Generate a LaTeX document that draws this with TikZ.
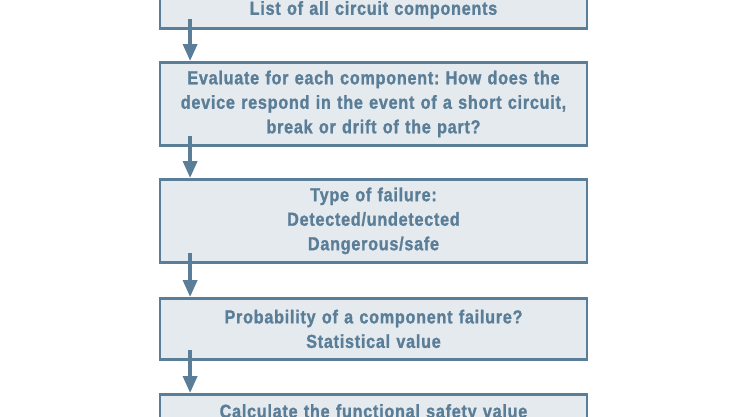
\documentclass[tikz,border=0pt]{standalone}
\usepackage{fontspec}
\usetikzlibrary{arrows.meta}
\newfontfamily\flowfont{Liberation Sans}[FakeStretch=0.86,LetterSpace=4,FakeBold=1.2]
\definecolor{steel}{HTML}{5A7E98}
\definecolor{mist}{HTML}{E5EAEE}
\tikzset{>={Triangle[width=14pt,length=17pt]}}
\tikzset{
    stepbox/.style = {draw=steel, line width=2.8pt, fill=mist, text=steel,
        minimum width=427pt, text width=410pt, align=center, anchor=north,
        inner sep=0pt, font=\flowfont\bfseries\frenchspacing\fontsize{18.8}{24.5}\selectfont},
    flow/.style = {->, draw=steel, line width=3.6pt}
}

\begin{document}
\begin{tikzpicture}[x=1pt, y=-1pt]
    \useasboundingbox (0,0) rectangle (740,416);
    \clip (0,0) rectangle (740,416);
    \node[stepbox, minimum height=37pt] (list) at (373.5,-10) {List of all circuit components};
    \node[stepbox, minimum height=83pt] (eval) at (373.5,61) {Evaluate for each component: How does the\\ device respond in the event of a short circuit,\\ break or drift of the part?};
    \node[stepbox, minimum height=83pt] (kind) at (373.5,178) {Type of failure:\\ Detected/undetected\\ Dangerous/safe};
    \node[stepbox, minimum height=61pt] (prob) at (373.5,297) {Probability of a component failure?\\ Statistical value};
    \node[stepbox, minimum height=37pt] (calc) at (373.5,393) {Calculate the functional safety value};
    \foreach \a/\b in {list/eval, eval/kind, kind/prob, prob/calc}
        \draw[flow] ([shift={(31.5,-11)}]\a.south west) -- ([shift={(31.5,0)}]\b.north west);
\end{tikzpicture}
\end{document}
